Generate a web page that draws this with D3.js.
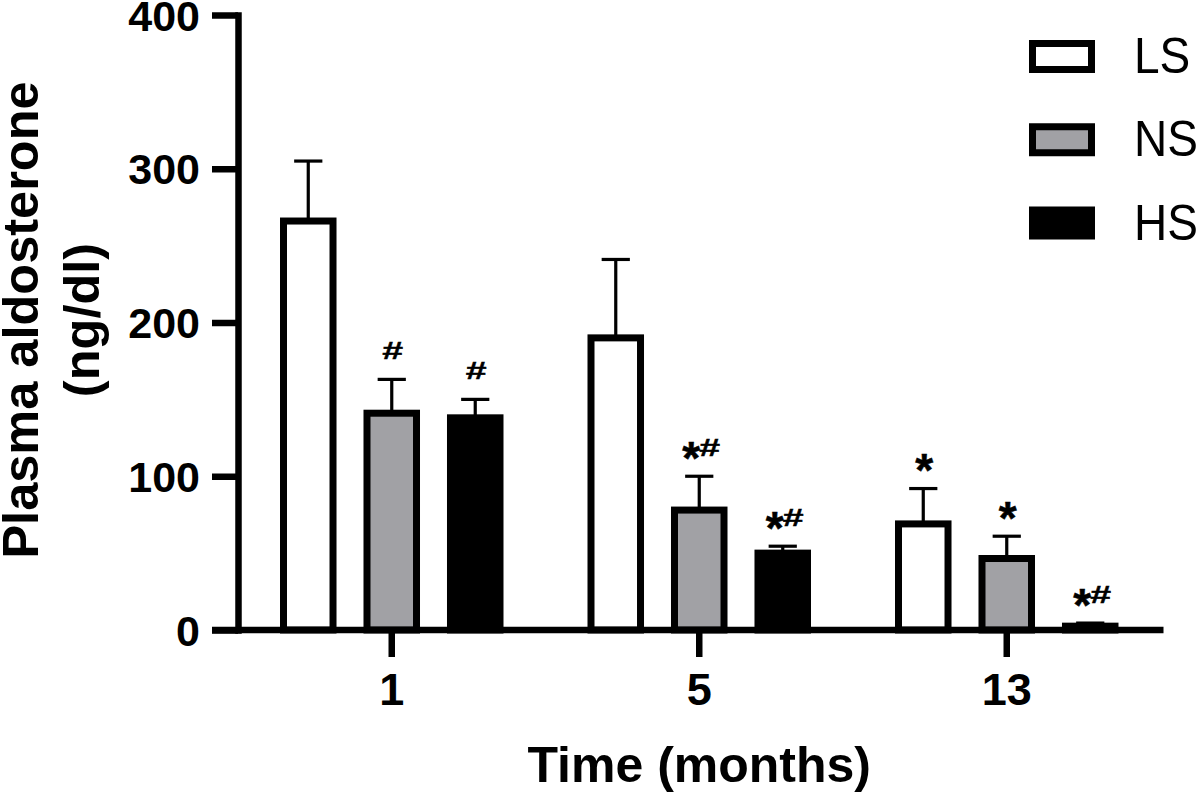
<!DOCTYPE html>
<html>
<head>
<meta charset="utf-8">
<script src="https://cdn.jsdelivr.net/npm/d3@7"></script>
<style>
  html, body { margin: 0; padding: 0; background: #ffffff; }
  svg { display: block; }
  text { font-family: "Liberation Sans", Arial, Helvetica, sans-serif; fill: #000; }
</style>
</head>
<body>
<svg id="chart" width="1200" height="792"></svg>
<script>
// ---- data ----
const categories = ["1", "5", "13"];
const seriesNames = ["LS", "NS", "HS"];
const seriesFill = ["#ffffff", "#a1a1a5", "#000000"];

const LS_mean = [266, 190, 69];
const LS_sem  = [39, 51, 23];
const NS_mean = [141, 78, 46.5];
const NS_sem  = [22, 22, 14.5];
const HS_mean = [138, 50, 2.5];
const HS_sem  = [12, 4.5, 2];

const LS_sig = ["", "", "*"];
const NS_sig = ["#", "*#", "*"];
const HS_sig = ["#", "*#", "*#"];

const yTicks = [0, 100, 200, 300, 400];
const yTitle = ["Plasma aldosterone", "(ng/dl)"];
const xTitle = "Time (months)";

// ---- build table ----
const means = [LS_mean, NS_mean, HS_mean];
const sems = [LS_sem, NS_sem, HS_sem];
const sigs = [LS_sig, NS_sig, HS_sig];
const rows = [];
categories.forEach((c, ci) => {
  seriesNames.forEach((s, si) => {
    rows.push({cat: c, series: s, si, mean: means[si][ci], sem: sems[si][ci], sig: sigs[si][ci]});
  });
});

const svg = d3.select("#chart");

// ---- scales ----
const y = d3.scaleLinear().domain([0, 400]).range([630, 15]);
const x0 = d3.scaleBand().domain(categories).range([238, 1160.5]).padding(0);
const x1 = d3.scaleBand().domain(seriesNames).range([0, x0.bandwidth()])
  .paddingInner(0.407).paddingOuter(0.545);
const color = d3.scaleOrdinal().domain(seriesNames).range(seriesFill);

const barStroke = 7;
const axisStroke = 6.5;

// ---- bars ----
const gBars = svg.append("g");
gBars.selectAll("rect").data(rows).join("rect")
  .attr("x", d => x0(d.cat) + x1(d.series))
  .attr("width", x1.bandwidth())
  .attr("y", d => y(d.mean))
  .attr("height", d => y(0) - y(d.mean))
  .attr("fill", d => color(d.series))
  .attr("stroke", "#000")
  .attr("stroke-width", barStroke);

// ---- error bars (upper only) ----
const capW = x1.bandwidth() * 0.57;
const cx = d => x0(d.cat) + x1(d.series) + x1.bandwidth() / 2;
const gErr = svg.append("g").attr("stroke", "#000").attr("stroke-width", 3.2);
gErr.selectAll("line.v").data(rows).join("line").attr("class", "v")
  .attr("x1", cx).attr("x2", cx)
  .attr("y1", d => y(d.mean)).attr("y2", d => y(d.mean + d.sem));
gErr.selectAll("line.c").data(rows).join("line").attr("class", "c")
  .attr("x1", d => cx(d) - capW / 2).attr("x2", d => cx(d) + capW / 2)
  .attr("y1", d => y(d.mean + d.sem)).attr("y2", d => y(d.mean + d.sem));

// ---- significance marks (each glyph drawn separately) ----
const gSig = svg.append("g").attr("font-weight", "bold");
function drawGlyph(ch, gx, base) {
  if (ch === "*") {
    gSig.append("text")
      .attr("transform", `translate(${gx},${base + 18})`)
      .attr("text-anchor", "middle").attr("font-size", 46)
      .attr("stroke", "#000").attr("stroke-width", 0.5).text("*");
  } else {
    gSig.append("text")
      .attr("transform", `translate(${gx},${base}) scale(1.5,0.92)`)
      .attr("text-anchor", "middle").attr("font-size", 25)
      .attr("stroke", "#000").attr("stroke-width", 0.4).text("#");
  }
}
rows.filter(d => d.sig).forEach(d => {
  const c = cx(d) + 1;
  const base = y(d.mean + d.sem) - 20.5;
  const chars = [...d.sig];
  if (chars.length === 1) {
    drawGlyph(chars[0], c, base);
  } else {
    drawGlyph(chars[0], c - 9, base);
    drawGlyph(chars[1], c + 9.5, base);
  }
});

// ---- y axis ----
const yAxis = d3.axisLeft(y).tickValues(yTicks).tickSize(26).tickSizeOuter(0).tickPadding(12);
const gy = svg.append("g").attr("transform", "translate(238,0)").call(yAxis);
gy.select(".domain").attr("stroke-width", axisStroke).attr("stroke-linecap", "square");
gy.selectAll(".tick line").attr("stroke-width", axisStroke);
gy.selectAll(".tick text").attr("font-size", 43).attr("font-weight", "bold")
  .attr("font-family", "'Liberation Sans', Arial, sans-serif").attr("dy", "0.35em");

// ---- x axis ----
const xAxis = d3.axisBottom(x0).tickSize(27).tickSizeOuter(0).tickPadding(16);
const gx = svg.append("g").attr("transform", "translate(0,630)").call(xAxis);
gx.select(".domain").remove();
gx.append("line")
  .attr("x1", x0.range()[0] - 26).attr("x2", x0.range()[1] + 3)
  .attr("y1", 0).attr("y2", 0)
  .attr("stroke", "#000").attr("stroke-width", axisStroke);
gx.selectAll(".tick line").attr("stroke-width", axisStroke);
gx.selectAll(".tick text").attr("font-size", 45).attr("font-weight", "bold")
  .attr("font-family", "'Liberation Sans', Arial, sans-serif");

// ---- axis titles ----
svg.append("text")
  .attr("x", x0.range()[0] + (x0.range()[1] - x0.range()[0]) / 2)
  .attr("y", 782)
  .attr("text-anchor", "middle")
  .attr("font-size", 50).attr("font-weight", "bold")
  .text(xTitle);

const yt = svg.append("text")
  .attr("transform", "translate(0,320) rotate(-90)")
  .attr("text-anchor", "middle")
  .attr("font-size", 50.5).attr("font-weight", "bold");
yt.append("tspan").attr("x", 0).attr("y", 37.5).text(yTitle[0]);
yt.append("tspan").attr("x", 0).attr("y", 99).text(yTitle[1]);

// ---- legend ----
const legY = d3.scalePoint().domain(seriesNames).range([56.5, 223]);
const gLeg = svg.append("g");
seriesNames.forEach(s => {
  gLeg.append("rect")
    .attr("x", 1032.5).attr("y", legY(s) - 13)
    .attr("width", 59).attr("height", 26)
    .attr("fill", color(s)).attr("stroke", "#000").attr("stroke-width", barStroke);
  gLeg.append("text")
    .attr("transform", `translate(1134,${legY(s) + 16.5}) scale(1,1.1)`)
    .attr("font-size", 46)
    .text(s);
});
</script>
</body>
</html>
